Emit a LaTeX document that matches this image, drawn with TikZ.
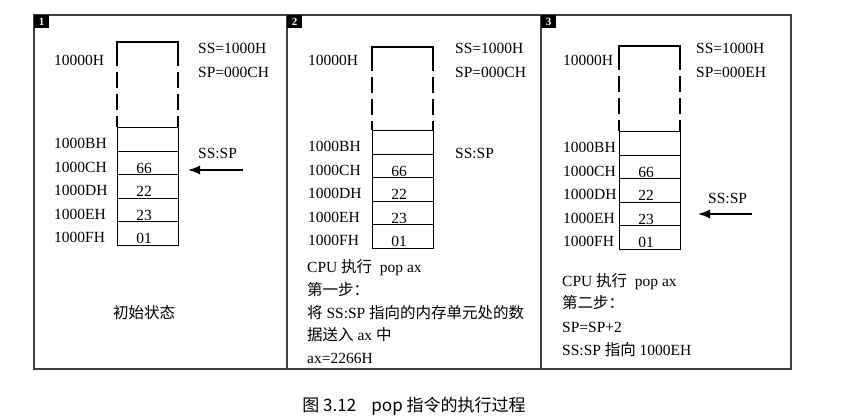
\documentclass[tikz,border=0pt]{standalone}
\usepackage{fontspec}
\setmainfont{Liberation Serif}
\newfontfamily\cjk{Noto Sans CJK SC}
\usetikzlibrary{arrows.meta}

% one memory stack: #1 name prefix, #2 box left, #3 box top, #4 top of first cell, #5 address x
\newcommand\memstack[5]{%
  \draw[boxline] (#2,#3+24) |- (#2+61,#3) -- (#2+61,#3+24);
  \draw[boxline,dash pattern=on 16pt off 6pt] (#2,#3+30) -- (#2,#4) (#2+61,#3+30) -- (#2+61,#4);
  \node[txt] (#1top) at (#5,65) {10000H};
  \foreach \i/\v/\a in {0//1000BH,1/66/1000CH,2/22/1000DH,3/23/1000EH,4/01/1000FH}{
    \node[cell] (#1c\i) at (#2,#4+23.5*\i) {};
    \node[val] (#1v\i) at ([xshift=-4pt,yshift=2pt]#1c\i.south) {\v};
    \node[txt] (#1a\i) at (#5,#4+23.5*\i+21.5) {\a};
  }%
}

\begin{document}
\begin{tikzpicture}[x=1pt,y=-1pt,
  txt/.style={inner sep=0pt,anchor=base west,font=\fontsize{15.5}{18}\selectfont},
  val/.style={inner sep=0pt,anchor=base,font=\fontsize{15.5}{18}\selectfont},
  cell/.style={draw=black,line width=1.4pt,minimum width=61pt,minimum height=23.5pt,inner sep=0pt,anchor=north west},
  boxline/.style={draw=black,line width=1.4pt},
  frame/.style={draw=black!75,line width=1.5pt},
  tag/.style={fill=black,text=white,font=\fontsize{11}{11}\selectfont\bfseries,minimum width=15pt,minimum height=13pt,inner sep=0pt,anchor=north west},
  ptr/.style={line width=1.4pt,-{Latex[length=12pt,width=9pt]}}
]
\useasboundingbox (0,0) rectangle (860,418);
\fill[white] (0,0) rectangle (860,418);

% frames of the three panels
\draw[frame] (34,15) rectangle (791,369);
\draw[frame] (287,15) -- (287,369);
\draw[frame] (541,15) -- (541,369);
\node[tag] (tag1) at (34,15) {1};
\node[tag] (tag2) at (287,15) {2};
\node[tag] (tag3) at (541,15) {3};

% panel 1: initial state
\memstack{a}{117}{42}{127}{54}
\node[txt] (ssA) at (198,53) {SS=1000H};
\node[txt] (spA) at (198,77) {SP=000CH};
\node[txt] (ptrA) at (198,158) {SS:SP};
\coordinate (fromA) at (243,170);
\coordinate (toA) at (188,170);
\draw[ptr] (fromA) -- (toA);
\node[txt,anchor=base] (stateA) at (144,318) {\cjk 初始状态};

% panel 2: first step
\memstack{b}{372}{47}{130}{308}
\node[txt] (ssB) at (455,53) {SS=1000H};
\node[txt] (spB) at (455,77) {SP=000CH};
\node[txt] (ptrB) at (455,158) {SS:SP};
\node[txt] (b1) at (307,272) {CPU {\cjk 执行}\ \ pop ax};
\node[txt] (b2) at (307,295) {\cjk 第一步：};
\node[txt] (b3) at (307,318) {{\cjk 将} SS:SP {\cjk 指向的内存单元处的数}};
\node[txt] (b4) at (307,340) {{\cjk 据送入} ax {\cjk 中}};
\node[txt] (b5) at (307,363) {ax=2266H};

% panel 3: second step
\memstack{c}{619}{46}{131}{563}
\node[txt] (ssC) at (696,53) {SS=1000H};
\node[txt] (spC) at (696,77) {SP=000EH};
\node[txt] (ptrC) at (708,203) {SS:SP};
\coordinate (fromC) at (752,214);
\coordinate (toC) at (698,214);
\draw[ptr] (fromC) -- (toC);
\node[txt] (c1) at (562,286) {CPU {\cjk 执行}\ \ pop ax};
\node[txt] (c2) at (562,308) {\cjk 第二步：};
\node[txt] (c3) at (562,332) {SP=SP+2};
\node[txt] (c4) at (562,355) {SS:SP {\cjk 指向} 1000EH};

% caption
\node[inner sep=0pt,anchor=base,font=\cjk\fontsize{17}{20}\selectfont] (cap) at (414,411) {图 3.12\ \ \ \ pop 指令的执行过程};
\end{tikzpicture}
\end{document}
